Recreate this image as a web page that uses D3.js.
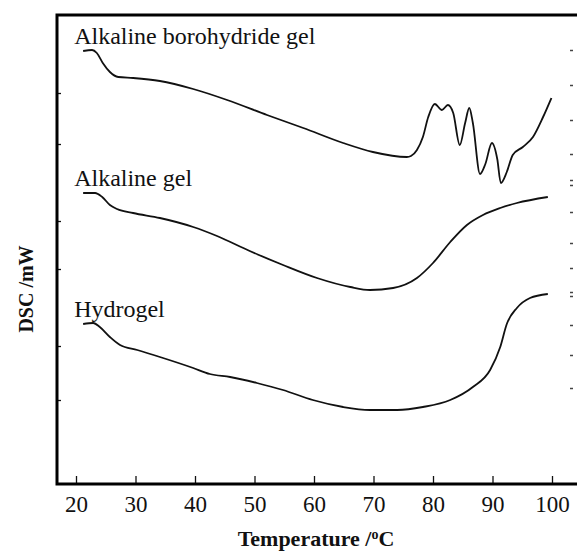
<!DOCTYPE html>
<html><head><meta charset="utf-8">
<script src="https://cdn.jsdelivr.net/npm/d3@7"></script>
<style>body{margin:0;background:#fff}svg{display:block}</style>
</head><body>
<svg id="c" width="577" height="552"></svg>
<script>
// Temperature (°C) and DSC (arbitrary mW offsets)
const boroT = [21.2,22.7,23.5,24.5,25.7,27.1,29.6,34.1,39.7,45.4,52.1,58.2,64.9,69.9,75.6,76.3,77.3,78.3,79.2,80.3,81.5,82.5,83.4,84.5,85.4,86.1,86.7,87.9,88.8,89.9,90.8,91.4,92.4,93.4,95.1,96.8,98.5,99.9];
const boroV = [8.66,8.68,8.62,8.42,8.24,8.14,8.12,8.06,7.90,7.68,7.38,7.12,6.82,6.64,6.54,6.56,6.68,6.94,7.34,7.60,7.48,7.58,7.42,6.78,7.22,7.52,7.22,6.20,6.40,6.82,6.50,6.02,6.24,6.58,6.74,6.94,7.34,7.72];
const alkT = [21.2,23.2,24.4,25.7,26.9,29.6,34.1,39.7,43.7,49.2,54.8,60.5,66.1,69.4,73.3,77.3,80.0,82.9,85.7,88.4,91.3,94.1,99.3];
const alkV = [5.82,5.82,5.74,5.58,5.50,5.42,5.32,5.14,4.96,4.66,4.38,4.12,3.94,3.88,3.92,4.12,4.42,4.84,5.18,5.38,5.52,5.62,5.74];
const hydT = [21.2,22.9,24.0,25.7,27.4,30.3,34.1,39.7,42.5,45.9,50.4,54.8,59.8,64.9,69.4,74.0,78.3,82.9,86.7,89.6,91.3,92.4,94.1,96.3,99.3];
const hydV = [3.20,3.22,3.14,2.94,2.78,2.68,2.54,2.32,2.20,2.14,2.02,1.88,1.68,1.54,1.48,1.48,1.54,1.68,1.94,2.28,2.74,3.20,3.52,3.72,3.80];
const seriesNames = ["Alkaline borohydride gel","Alkaline gel","Hydrogel"];
const xTicks = [20,30,40,50,60,70,80,90,100];
const yTicks = [7.82,6.80,5.26,4.30,2.76,1.68];
const rightTicks = [8.68,7.98,7.28,6.60,6.08,5.98,5.44,4.82,4.32,3.84,3.76,3.18,2.58,1.92];

const svg = d3.select("#c");
const L = 57, T = 15, B = 484, R = 577;
const x = d3.scaleLinear().domain([20,100]).range([76,552]);
const y = d3.scaleLinear().domain([0,9.38]).range([B,T]);
const serif = "'Liberation Serif','Times New Roman',serif";

const series = [[boroT,boroV],[alkT,alkV],[hydT,hydV]].map(([t,v],i)=>({name:seriesNames[i],pts:t.map((d,j)=>[d,v[j]])}));
const line = d3.line().x(d=>x(d[0])).y(d=>y(d[1])).curve(d3.curveMonotoneX);

series.forEach(s=>{
  svg.append("path").attr("d",line(s.pts)).attr("fill","none").attr("stroke","#111").attr("stroke-width",1.8).attr("stroke-linejoin","round");
  svg.append("text").attr("x",x(s.pts[0][0])-9).attr("y",y(s.pts[0][1])-7)
    .attr("font-family",serif).attr("font-size",24).attr("fill","#111").text(s.name);
});

// x axis (inward ticks)
const xa = svg.append("g").attr("transform",`translate(0,${B})`)
  .call(d3.axisBottom(x).tickValues(xTicks).tickSize(-8).tickSizeOuter(0).tickPadding(22));
xa.select(".domain").remove();
xa.selectAll(".tick line").attr("stroke","#111").attr("stroke-width",1.3);
xa.selectAll(".tick text").attr("font-family",serif).attr("font-size",23).attr("fill","#111").attr("dy","0.25em");

// left axis ticks (inward)
const ya = svg.append("g").attr("transform",`translate(${L},0)`)
  .call(d3.axisLeft(y).tickValues(yTicks).tickSize(-4).tickFormat(""));
ya.select(".domain").remove();
ya.selectAll(".tick line").attr("stroke","#111").attr("stroke-width",1.3);

// faint right-side marks
const ra = svg.append("g").attr("transform",`translate(570,0)`)
  .call(d3.axisRight(y).tickValues(rightTicks).tickSize(3).tickFormat(""));
ra.select(".domain").remove();
ra.selectAll(".tick line").attr("stroke","#444").attr("stroke-width",1.5);

// frame
svg.append("path").attr("d",`M${R},${T}H${L}V${B}H${R}`).attr("fill","none").attr("stroke","#000").attr("stroke-width",3);

svg.append("text").attr("x",316).attr("y",546).attr("text-anchor","middle")
  .attr("font-family",serif).attr("font-weight","bold").attr("font-size",22).attr("fill","#111")
  .call(t=>{t.append("tspan").text("Temperature /");t.append("tspan").attr("baseline-shift","super").attr("font-size",14).text("o");t.append("tspan").text("C");});
svg.append("text").attr("transform","translate(33,289) rotate(-90)").attr("text-anchor","middle")
  .attr("font-family",serif).attr("font-weight","bold").attr("font-size",20).attr("fill","#111").text("DSC /mW");
</script>
</body></html>
